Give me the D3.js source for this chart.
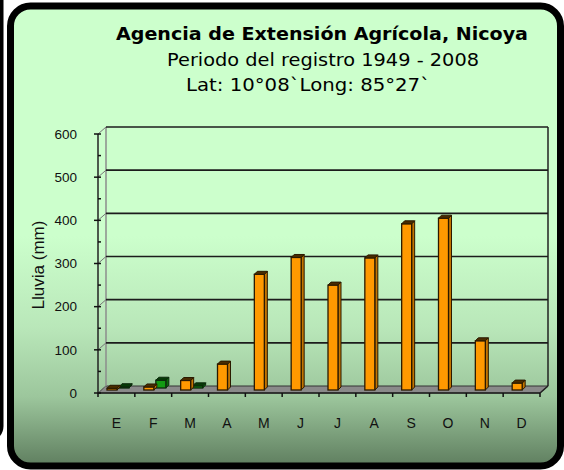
<!DOCTYPE html>
<html><head><meta charset="utf-8">
<script src="https://cdn.jsdelivr.net/npm/d3@7"></script>
<style>body{margin:0;background:#fff;overflow:hidden}</style>
</head><body>
<svg id="c" width="564" height="470"></svg>
<script>
// ---- data ----
const months = ["E","F","M","A","M","J","J","A","S","O","N","D"];
const lluvia = [4, 7, 22, 60, 268, 307, 243, 306, 385, 398, 114, 16];
const serie2 = [3, 18, 5, null, null, null, null, null, null, null, null, null];
const yTicks = [0, 100, 200, 300, 400, 500, 600];
const yMinorTicks = [50, 150, 250, 350, 450, 550];
const titleText = "Agencia de Extensión Agrícola, Nicoya";
const subtitle1 = "Periodo del registro 1949 - 2008";
const subtitle2 = "Lat: 10°08`Long: 85°27`";
const yTitle = "Lluvia (mm)";

// ---- layout ----
const svg = d3.select("#c");
const DX = 8, DY = -7;          // wall depth offset
const idx = d3.range(months.length);
const x = d3.scaleBand().domain(idx).range([98, 540]).padding(0);
const y = d3.scaleLinear().domain([0, 600]).range([393, 134]);

const defs = svg.append("defs");
const grad = defs.append("linearGradient").attr("id","bg").attr("x1",0).attr("y1",0).attr("x2",0).attr("y2",1);
[[0,"#ccffcc"],[0.5,"#ccffcc"],[0.7,"#b9e7b9"],[0.85,"#9cc69c"],[1,"#5f7e5f"]]
  .forEach(([o,c]) => grad.append("stop").attr("offset",o).attr("stop-color",c));

// left neighbour panel edge
svg.append("rect").attr("x",-100).attr("y",-20).attr("width",103.5).attr("height",462)
  .attr("rx",16).attr("fill","#000");
// main panel
svg.append("rect").attr("x",10.5).attr("y",6).attr("width",550).attr("height",460)
  .attr("rx",20).attr("fill","url(#bg)").attr("stroke","#000").attr("stroke-width",7);

// titles
const tg = svg.append("g").attr("font-family","'DejaVu Sans', Verdana, sans-serif").attr("fill","#000").attr("text-anchor","middle");
tg.append("text").attr("x",322).attr("y",40).attr("font-size",18.5).attr("font-weight","bold")
  .attr("textLength",412).attr("lengthAdjust","spacingAndGlyphs").text(titleText);
tg.append("text").attr("x",323).attr("y",66).attr("font-size",18)
  .attr("textLength",312).attr("lengthAdjust","spacingAndGlyphs").text(subtitle1);
tg.append("text").attr("x",308).attr("y",91).attr("font-size",18)
  .attr("textLength",244).attr("lengthAdjust","spacingAndGlyphs").text(subtitle2);

// floor
const fl = [[x.range()[0], y(0)], [x.range()[1], y(0)], [x.range()[1]+DX, y(0)+DY], [x.range()[0]+DX, y(0)+DY]];
svg.append("polygon").attr("points", fl.map(p=>p.join(",")).join(" "))
  .attr("fill","#8a8a8a").attr("stroke","#333").attr("stroke-width",1);

// walls: left edge, right edge
svg.append("line").attr("x1",x.range()[0]+DX).attr("x2",x.range()[0]+DX)
  .attr("y1",y(600)+DY).attr("y2",y(0)+DY).attr("stroke","#8c8c8c").attr("stroke-width",1.5);
svg.append("line").attr("x1",x.range()[1]+DX).attr("x2",x.range()[1]+DX)
  .attr("y1",y(600)+DY).attr("y2",y(0)+DY).attr("stroke","#222").attr("stroke-width",1.5);
svg.append("line").attr("x1",x.range()[1]+DX).attr("x2",x.range()[1])
  .attr("y1",y(0)+DY).attr("y2",y(0)).attr("stroke","#222").attr("stroke-width",1.5);

// gridlines on back wall
svg.append("g").selectAll("line").data(yTicks.filter(v=>v>0)).join("line")
  .attr("x1",x.range()[0]+DX).attr("x2",x.range()[1]+DX)
  .attr("y1",d=>y(d)+DY).attr("y2",d=>y(d)+DY)
  .attr("stroke","#1c1c1c").attr("stroke-width",1.6);
// connectors from axis to wall
svg.append("g").selectAll("line").data(yTicks).join("line")
  .attr("x1",x.range()[0]).attr("x2",x.range()[0]+DX)
  .attr("y1",d=>y(d)).attr("y2",d=>y(d)+DY)
  .attr("stroke","#777").attr("stroke-width",1);

// 3D bar helper
function bar3d(g, x0, w, yb, yt, d, c) {
  g.append("polygon").attr("points", [[x0+w,yt],[x0+w+d,yt-d],[x0+w+d,yb-d],[x0+w,yb]].map(p=>p.join(",")).join(" "))
    .attr("fill", c.side).attr("stroke", c.line).attr("stroke-width", 1);
  g.append("rect").attr("x", x0).attr("y", yt).attr("width", w).attr("height", Math.max(0, yb-yt))
    .attr("fill", c.front).attr("stroke", c.line).attr("stroke-width", 1.3);
  g.append("polygon").attr("points", [[x0,yt],[x0+d,yt-d],[x0+w+d,yt-d],[x0+w,yt]].map(p=>p.join(",")).join(" "))
    .attr("fill", c.top).attr("stroke", c.line).attr("stroke-width", 1);
}
const green = {front:"#129a12", side:"#0a6a0a", top:"#063a06", line:"#0b2a0b"};
const orange = {front:"#ff9900", side:"#c27400", top:"#4a2c00", line:"#2a1a00"};
const bars = svg.append("g");
idx.forEach(i => {
  if (serie2[i] != null) bar3d(bars, x(i)+21, 10, y(0)-5, y(serie2[i])-5, 3, green);
});
idx.forEach(i => {
  if (lluvia[i] != null) bar3d(bars, x(i)+9, 10, y(0)-3, y(lluvia[i])-3, 3, orange);
});

// front axes
svg.append("line").attr("x1",x.range()[0]).attr("x2",x.range()[0]).attr("y1",y(600)).attr("y2",y(0))
  .attr("stroke","#222").attr("stroke-width",1.5);
svg.append("line").attr("x1",x.range()[0]).attr("x2",x.range()[1]).attr("y1",y(0)).attr("y2",y(0))
  .attr("stroke","#222").attr("stroke-width",1.5);

// y axis via d3
const yAxis = d3.axisLeft(y).tickValues(yTicks).tickSize(0).tickPadding(21);
const yg = svg.append("g").attr("transform",`translate(${x.range()[0]},0)`).call(yAxis);
yg.select(".domain").remove();
yg.selectAll("text").attr("font-family","'Liberation Sans', Arial, sans-serif").attr("font-size",13.5).attr("fill","#111");
svg.append("g").selectAll("line").data(yTicks).join("line")
  .attr("x1",x.range()[0]-4).attr("x2",x.range()[0]+3).attr("y1",d=>y(d)).attr("y2",d=>y(d))
  .attr("stroke","#111").attr("stroke-width",1.5);
svg.append("g").selectAll("line").data(yMinorTicks).join("line")
  .attr("x1",x.range()[0]).attr("x2",x.range()[0]+3).attr("y1",d=>y(d)).attr("y2",d=>y(d))
  .attr("stroke","#111").attr("stroke-width",1.5);

// x axis via d3
const xAxis = d3.axisBottom(x).tickSize(0).tickPadding(25).tickFormat(i => months[i]);
const xg = svg.append("g").attr("transform",`translate(0,${y(0)})`).call(xAxis);
xg.select(".domain").remove();
xg.selectAll("text").attr("font-family","'Liberation Sans', Arial, sans-serif").attr("font-size",14).attr("fill","#111");
svg.append("g").selectAll("line").data(d3.range(months.length+1)).join("line")
  .attr("x1",i=>x.range()[0]+i*x.bandwidth()).attr("x2",i=>x.range()[0]+i*x.bandwidth())
  .attr("y1",y(0)).attr("y2",y(0)+4).attr("stroke","#111").attr("stroke-width",1.5);

// y title
svg.append("text").attr("transform","translate(44,265) rotate(-90)").attr("text-anchor","middle")
  .attr("font-family","'Liberation Sans', Arial, sans-serif").attr("font-size",16.5).attr("fill","#111")
  .attr("textLength",89).attr("lengthAdjust","spacingAndGlyphs").text(yTitle);
</script>
</body></html>
